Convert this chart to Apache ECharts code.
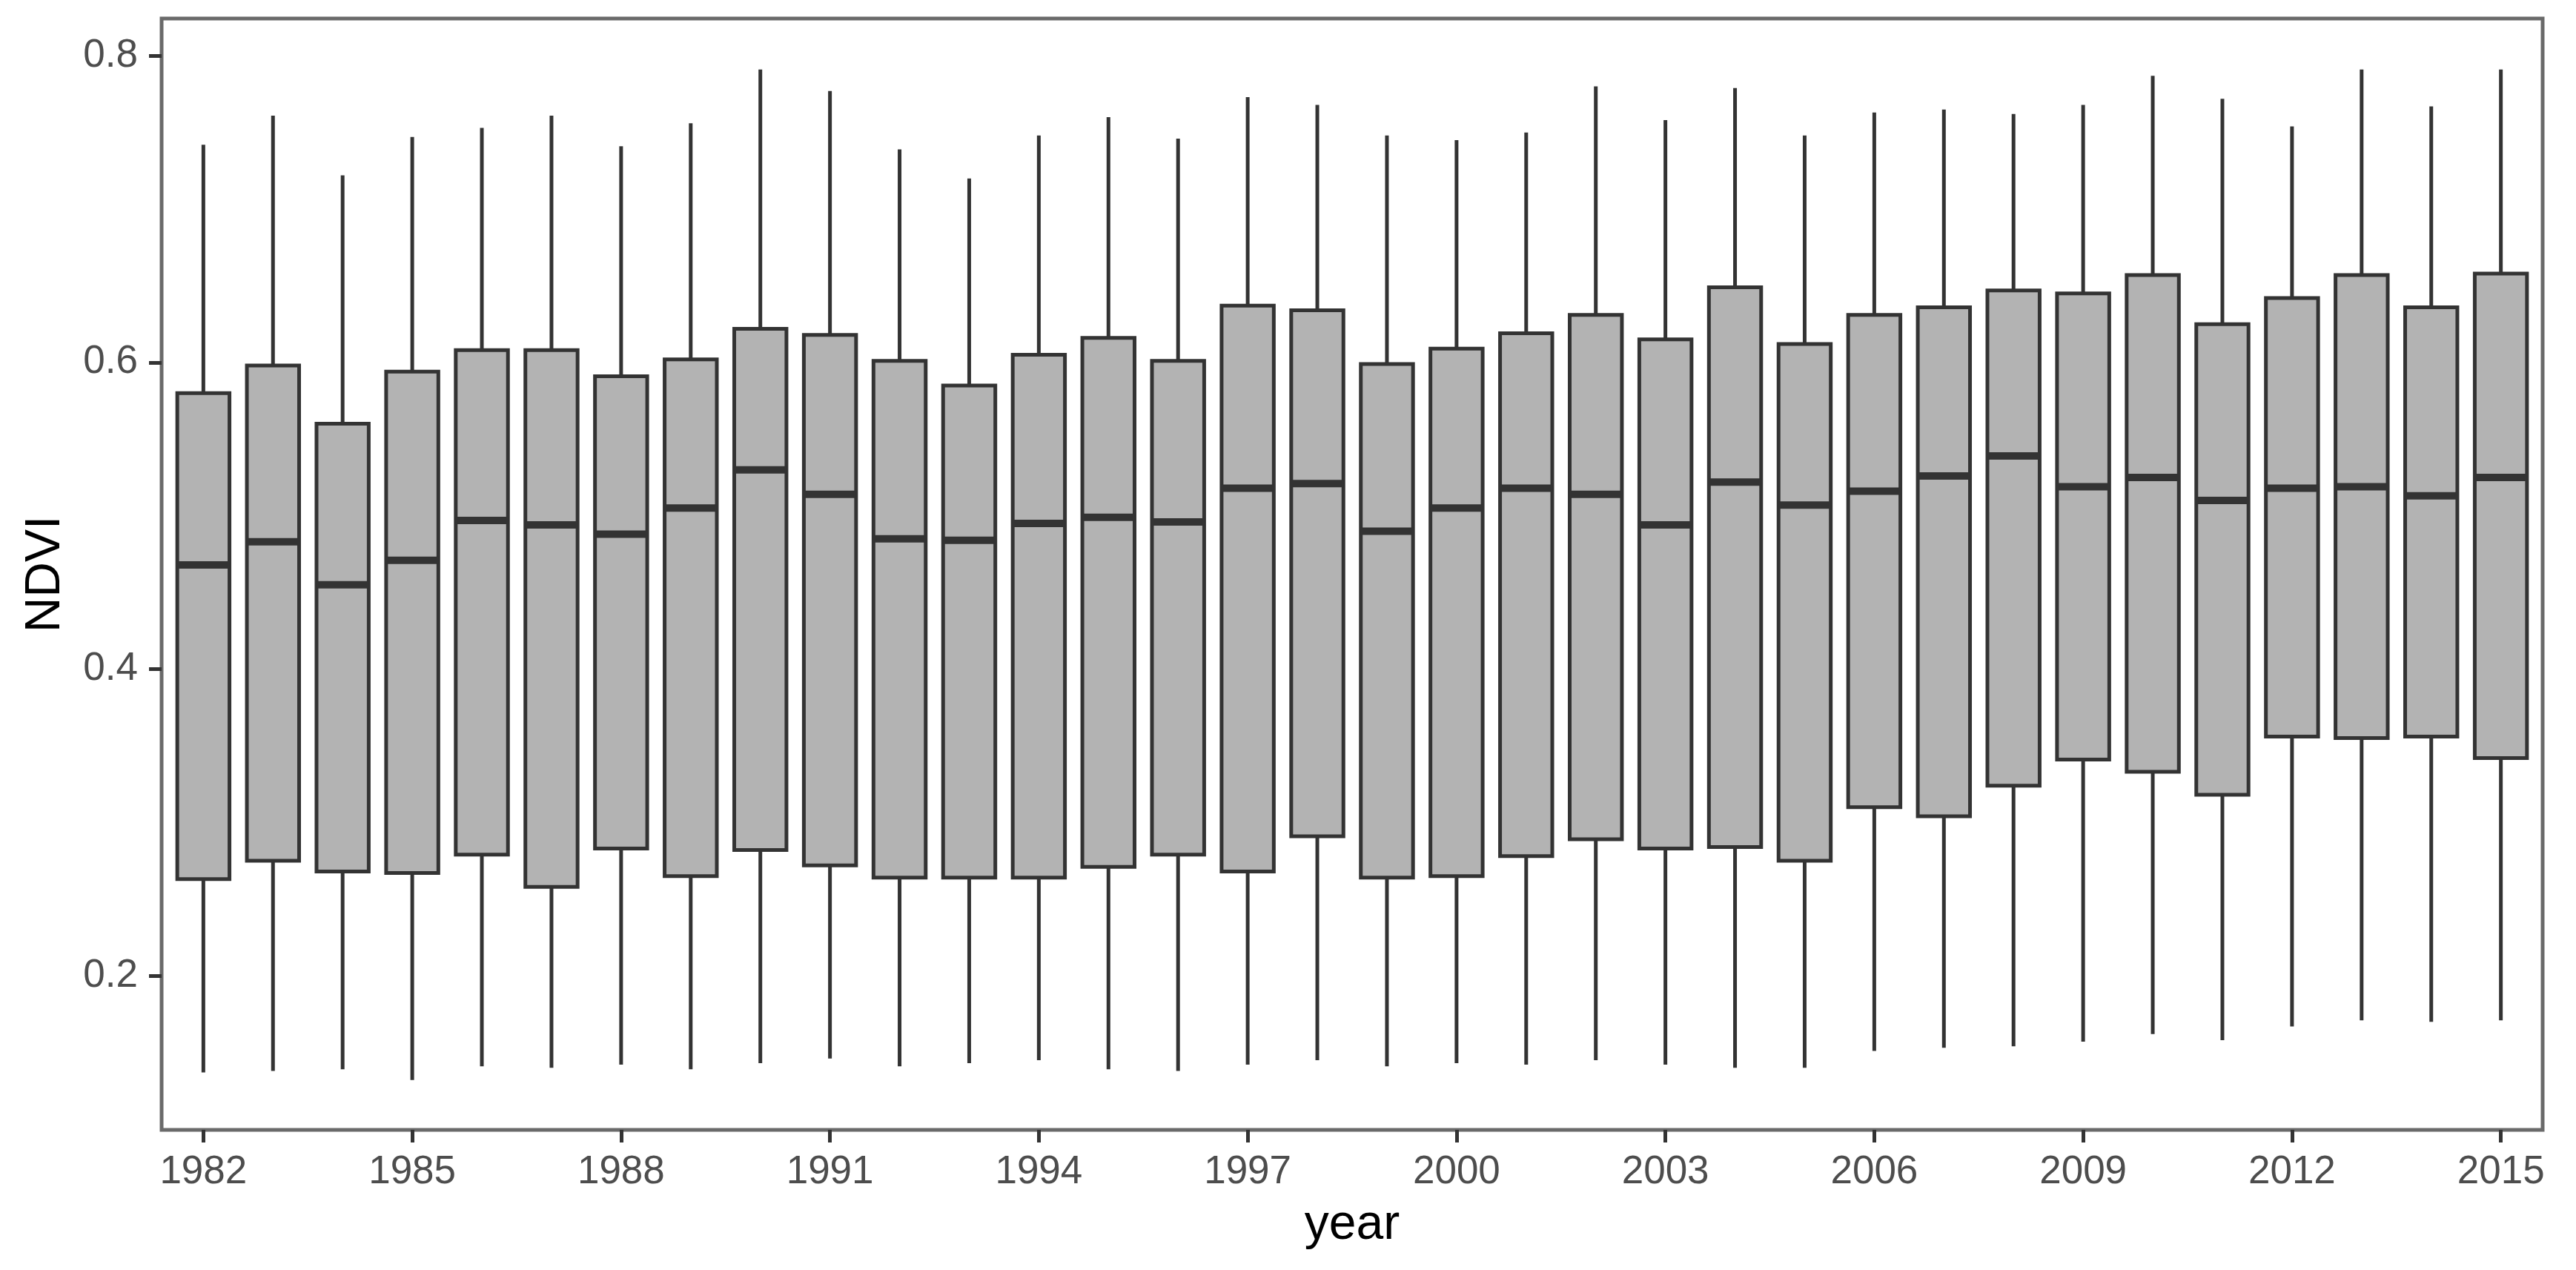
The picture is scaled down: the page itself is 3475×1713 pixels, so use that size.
<!DOCTYPE html>
<html>
<head>
<meta charset="utf-8">
<script src="https://cdn.jsdelivr.net/npm/echarts@6/dist/echarts.min.js"></script>
<style>
  html, body { margin: 0; padding: 0; background: #ffffff; }
  #chart { width: 3475px; height: 1713px; }
</style>
</head>
<body>
<div id="chart"></div>
<script>
// ---- data ----
const years = ['1982','1983','1984','1985','1986','1987','1988','1989','1990','1991',
               '1992','1993','1994','1995','1996','1997','1998','1999','2000','2001',
               '2002','2003','2004','2005','2006','2007','2008','2009','2010','2011',
               '2012','2013','2014','2015'];
const lowerWhisker = [0.137,0.138,0.139,0.132,0.141,0.140,0.142,0.139,0.143,0.146,
                      0.141,0.143,0.145,0.139,0.138,0.142,0.145,0.141,0.143,0.142,
                      0.145,0.142,0.140,0.140,0.151,0.153,0.154,0.157,0.162,0.158,
                      0.167,0.171,0.170,0.171];
const q1 = [0.263,0.275,0.268,0.267,0.279,0.258,0.283,0.265,0.282,0.272,
            0.264,0.264,0.264,0.271,0.279,0.268,0.291,0.264,0.265,0.278,
            0.289,0.283,0.284,0.275,0.310,0.304,0.324,0.341,0.333,0.318,
            0.356,0.355,0.356,0.342];
const medians = [0.468,0.483,0.455,0.471,0.497,0.494,0.488,0.505,0.530,0.514,
                 0.485,0.484,0.495,0.499,0.496,0.518,0.521,0.490,0.505,0.518,
                 0.514,0.494,0.522,0.507,0.516,0.526,0.539,0.519,0.525,0.510,
                 0.518,0.519,0.513,0.525];
const q3 = [0.580,0.598,0.560,0.594,0.608,0.608,0.591,0.602,0.622,0.618,
            0.601,0.585,0.605,0.616,0.601,0.637,0.634,0.599,0.609,0.619,
            0.631,0.615,0.649,0.612,0.631,0.636,0.647,0.645,0.657,0.625,
            0.642,0.657,0.636,0.658];
const upperWhisker = [0.742,0.761,0.722,0.747,0.753,0.761,0.741,0.756,0.791,0.777,
                      0.739,0.720,0.748,0.760,0.746,0.773,0.768,0.748,0.745,0.750,
                      0.780,0.758,0.779,0.748,0.763,0.765,0.762,0.768,0.787,0.772,
                      0.754,0.791,0.767,0.791];
const yTicks = [0.2, 0.4, 0.6, 0.8];
const xAxisTitle = 'year';
const yAxisTitle = 'NDVI';

// ---- build series data ----
const boxData = years.map((y, i) => [i, lowerWhisker[i], q1[i], medians[i], q3[i], upperWhisker[i]]);

const Y_MIN = 0.0995, Y_MAX = 0.8243;
const BOX_FRAC = 0.75;
const LINE = '#333333';

const chart = echarts.init(document.getElementById('chart'), null, { renderer: 'canvas' });

// panel geometry (ggplot discrete scale adds 0.6 unit each side; category axis gives 0.5)
const PANEL_LEFT = 218, PANEL_RIGHT = 45, PANEL_TOP = 25, PANEL_BOTTOM = 189;
const panelWidth = 3475 - PANEL_LEFT - PANEL_RIGHT;
const unit = panelWidth / (years.length + 0.2);
const inset = unit * 0.1;

const option = {
  backgroundColor: '#ffffff',
  animation: false,
  grid: [
    { left: PANEL_LEFT, right: PANEL_RIGHT, top: PANEL_TOP, bottom: PANEL_BOTTOM,
      show: true, borderColor: '#6a6a6a', borderWidth: 5, backgroundColor: 'transparent', z: 0 },
    { left: PANEL_LEFT + inset, right: PANEL_RIGHT + inset, top: PANEL_TOP, bottom: PANEL_BOTTOM }
  ],
  xAxis: [
    { gridIndex: 0, type: 'value', min: 0, max: 1, show: false },
    { gridIndex: 1, type: 'category', data: years, boundaryGap: true,
      name: xAxisTitle, nameLocation: 'middle', nameGap: 96,
      nameTextStyle: { fontFamily: 'Liberation Sans', fontSize: 66, color: '#000000' },
      axisLine: { show: false },
      axisTick: { show: true, interval: 2, alignWithLabel: true, length: 17,
                  lineStyle: { color: LINE, width: 5 } },
      axisLabel: { interval: 2, margin: 31, fontFamily: 'Liberation Sans', fontSize: 53, color: '#4D4D4D' },
      splitLine: { show: false } }
  ],
  yAxis: [
    { gridIndex: 0, type: 'value', min: Y_MIN, max: Y_MAX,
      name: yAxisTitle, nameLocation: 'middle', nameGap: 123, nameRotate: 90,
      nameTextStyle: { fontFamily: 'Liberation Sans', fontSize: 66, color: '#000000' },
      axisLine: { show: false },
      axisTick: { show: true, length: 17, customValues: yTicks, lineStyle: { color: LINE, width: 5 } },
      axisLabel: { margin: 32, customValues: yTicks, fontFamily: 'Liberation Sans', fontSize: 53, color: '#4D4D4D',
                   formatter: v => Number(v).toFixed(1) },
      splitLine: { show: false } },
    { gridIndex: 1, type: 'value', min: Y_MIN, max: Y_MAX, show: false, splitLine: { show: false } }
  ],
  series: [{
    type: 'custom',
    xAxisIndex: 1,
    yAxisIndex: 1,
    data: boxData,
    encode: { x: 0, y: [1, 2, 3, 4, 5] },
    clip: false,
    renderItem: function (params, api) {
      const idx = api.value(0);
      const pLo = api.coord([idx, api.value(1)]);
      const pQ1 = api.coord([idx, api.value(2)]);
      const pMed = api.coord([idx, api.value(3)]);
      const pQ3 = api.coord([idx, api.value(4)]);
      const pHi = api.coord([idx, api.value(5)]);
      const bw = api.size([1, 0])[0] * BOX_FRAC;
      const cx = pMed[0];
      return {
        type: 'group',
        children: [
          { type: 'line', shape: { x1: cx, y1: pQ3[1], x2: cx, y2: pHi[1] },
            style: { stroke: LINE, lineWidth: 5, lineCap: 'butt' } },
          { type: 'line', shape: { x1: cx, y1: pQ1[1], x2: cx, y2: pLo[1] },
            style: { stroke: LINE, lineWidth: 5, lineCap: 'butt' } },
          { type: 'rect', shape: { x: cx - bw / 2, y: pQ3[1], width: bw, height: pQ1[1] - pQ3[1] },
            style: { fill: '#B3B3B3', stroke: LINE, lineWidth: 5, lineJoin: 'miter' } },
          { type: 'line', shape: { x1: cx - bw / 2, y1: pMed[1], x2: cx + bw / 2, y2: pMed[1] },
            style: { stroke: LINE, lineWidth: 10, lineCap: 'butt' } }
        ]
      };
    }
  }]
};

chart.setOption(option);
</script>
</body>
</html>
